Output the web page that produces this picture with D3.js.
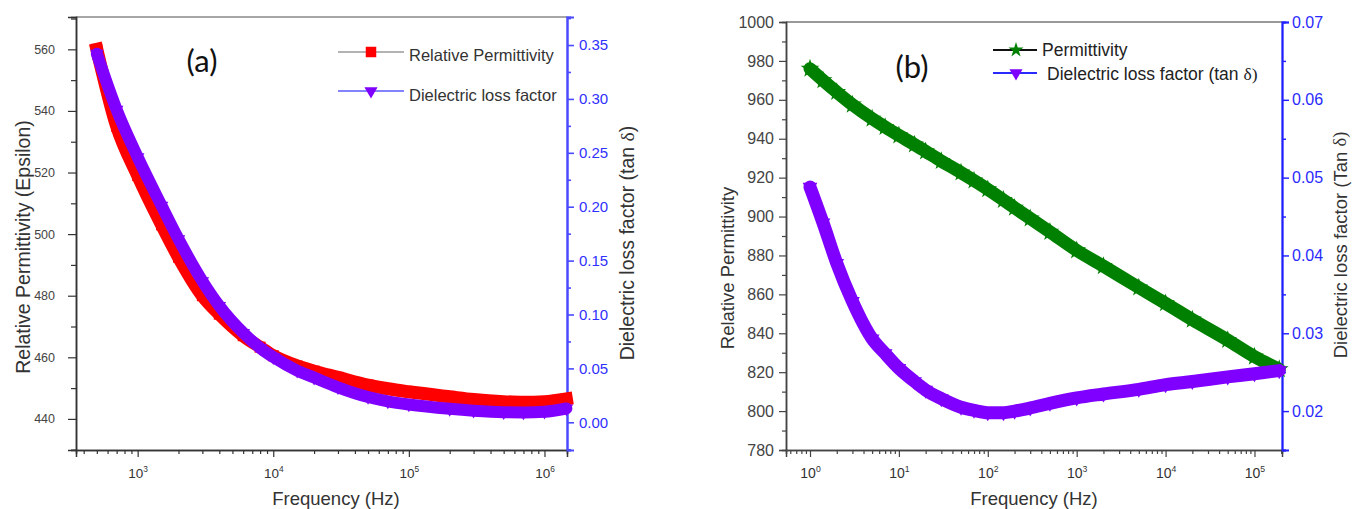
<!DOCTYPE html>
<html><head><meta charset="utf-8">
<script src="https://cdn.jsdelivr.net/npm/d3@7"></script>
<style>
body{margin:0;background:#fff;}
svg{display:block;font-family:"Liberation Sans",Arial,sans-serif;}
</style></head><body>
<svg id="chart" width="1352" height="509"></svg>
<script>
// ---------- Panel (a) data ----------
const freqA = [500, 700, 1000, 1500, 2000, 3000, 4000, 6000, 8000, 10000, 15000, 20000, 30000, 50000, 70000, 100000, 200000, 300000, 500000, 700000, 1000000, 1450000];
const permA = [560, 535, 519, 503, 492.5, 480, 474, 467, 463.3, 460.5, 457.2, 455.5, 453.5, 451, 449.8, 448.8, 447.2, 446.3, 445.6, 445.4, 445.6, 446.5];
const tanA  = [0.342, 0.290, 0.246, 0.201, 0.170, 0.131, 0.108, 0.083, 0.069, 0.0605, 0.048, 0.0415, 0.0325, 0.0235, 0.0195, 0.0165, 0.0125, 0.0108, 0.0094, 0.0092, 0.0098, 0.0128];
const leftTicksA  = [440, 460, 480, 500, 520, 540, 560];
const leftMinorA  = [430, 450, 470, 490, 510, 530, 550, 570];
const rightTicksA = [0, 0.05, 0.10, 0.15, 0.20, 0.25, 0.30, 0.35];
const rightMinorA = [-0.025, 0.025, 0.075, 0.125, 0.175, 0.225, 0.275, 0.325, 0.375];
const xTicksA = [1e3, 1e4, 1e5, 1e6];
const legendA = ["Relative Permittivity", "Dielectric loss factor"];

// ---------- Panel (b) data ----------
const freqB = [1, 1.4, 2, 3, 5, 7, 10, 15, 20, 30, 50, 70, 100, 150, 200, 300, 500, 1000, 2000, 5000, 10000, 20000, 50000, 100000, 190000];
const permB = [976, 970, 964, 957.5, 950.3, 946, 941.7, 937, 933.5, 928.5, 922.6, 918.5, 914, 908.5, 904.5, 899, 892.1, 882.6, 874.5, 863.5, 855.4, 847, 836.5, 828, 821.5];
const tanB  = [0.0488, 0.0442, 0.0390, 0.0341, 0.0293, 0.0274, 0.0255, 0.0238, 0.0227, 0.0216, 0.0205, 0.0201, 0.0198, 0.0198, 0.0200, 0.0204, 0.0210, 0.0217, 0.0222, 0.0228, 0.0234, 0.0238, 0.0244, 0.0248, 0.0252];
const leftTicksB  = [780, 800, 820, 840, 860, 880, 900, 920, 940, 960, 980, 1000];
const leftMinorB  = [790, 810, 830, 850, 870, 890, 910, 930, 950, 970, 990];
const rightTicksB = [0.02, 0.03, 0.04, 0.05, 0.06, 0.07];
const rightMinorB = [0.015, 0.025, 0.035, 0.045, 0.055, 0.065];
const xTicksB = [1, 10, 100, 1000, 10000, 100000];
const legendB = ["Permittivity", "Dielectric loss factor (tan "];

const svg = d3.select("#chart");

function logMinors(domain) {
  const out = [];
  const lo = Math.floor(Math.log10(domain[0])), hi = Math.ceil(Math.log10(domain[1]));
  for (let e = lo; e <= hi; e++) for (let m = 2; m <= 9; m++) {
    const v = m * Math.pow(10, e);
    if (v >= domain[0] && v <= domain[1]) out.push(v);
  }
  return out;
}
function supLabels(sel, fs) {
  sel.selectAll(".tick text").each(function(d) {
    const t = d3.select(this); t.text(null);
    t.append("tspan").text("10");
    t.append("tspan").attr("dy", -fs * 0.45).attr("font-size", fs * 0.62).text(Math.round(Math.log10(d)));
  });
}
function styleAxis(g, color, width, textColor, fs) {
  g.select(".domain").attr("stroke", color).attr("stroke-width", width);
  g.selectAll(".tick line").attr("stroke", color).attr("stroke-width", width * 0.8);
  g.selectAll(".tick text").attr("fill", textColor).attr("font-size", fs);
  g.attr("font-family", null);
}

// ================= PANEL A =================
const xA  = d3.scaleLog().domain([351, 1.466e6]).range([76, 567]);
const yA  = d3.scaleLinear().domain([429.9, 570.5]).range([450, 17]);
const y2A = d3.scaleLinear().domain([-0.0257, 0.376]).range([450, 17]);
const gA = svg.append("g");

gA.append("line").attr("x1", 76).attr("x2", 567).attr("y1", yA(570.5)).attr("y2", yA(570.5)).attr("stroke", "#888").attr("stroke-width", 1.3);

gA.append("g").attr("transform", "translate(0,450)").call(d3.axisBottom(xA).tickValues(logMinors(xA.domain())).tickSize(4).tickFormat(""))
  .call(g => styleAxis(g, "#333", 1.5, "#333", 13.5));
gA.append("g").attr("transform", "translate(76,0)").call(d3.axisLeft(yA).tickValues(leftMinorA).tickSize(5).tickFormat(""))
  .call(g => styleAxis(g, "#333", 1.5, "#333", 12));
gA.append("g").attr("transform", "translate(567,0)").call(d3.axisRight(y2A).tickValues(rightMinorA).tickSize(4).tickFormat(""))
  .call(g => styleAxis(g, "#4a4aff", 2, "#3030ff", 15));
gA.append("g").attr("transform", "translate(0,450)").call(d3.axisBottom(xA).tickValues(xTicksA).tickSize(7).tickPadding(11))
  .call(g => styleAxis(g, "#333", 1.5, "#333", 13.5)).call(g => supLabels(g, 13.5));
gA.append("g").attr("transform", "translate(76,0)").call(d3.axisLeft(yA).tickValues(leftTicksA).tickSize(8).tickPadding(13).tickFormat(d3.format("d")))
  .call(g => styleAxis(g, "#333", 1.5, "#444", 12.5));
gA.append("g").attr("transform", "translate(567,0)").call(d3.axisRight(y2A).tickValues(rightTicksA).tickSize(7).tickPadding(5).tickFormat(d3.format(".2f")))
  .call(g => styleAxis(g, "#4a4aff", 2, "#3030ff", 15));

const dataPermA = freqA.map((f, i) => [f, permA[i]]);
const dataTanA  = freqA.map((f, i) => [f, tanA[i]]);
const lineA1 = d3.line().x(d => xA(d[0])).y(d => yA(d[1])).curve(d3.curveMonotoneX);
const lineA2 = d3.line().x(d => xA(d[0])).y(d => y2A(d[1])).curve(d3.curveMonotoneX);
gA.append("path").datum(dataPermA).attr("d", lineA1).attr("fill", "none").attr("stroke", "#ff0000").attr("stroke-width", 13).attr("stroke-linejoin", "round").attr("stroke-linecap", "square");
gA.selectAll(".sqA").data(dataPermA).join("path").attr("class", "sqA")
  .attr("d", d3.symbol(d3.symbolSquare, 121)).attr("fill", "#ff0000")
  .attr("transform", d => `translate(${xA(d[0])},${yA(d[1])})`);
gA.append("path").datum(dataTanA).attr("d", lineA2).attr("fill", "none").attr("stroke", "#8000ff").attr("stroke-width", 12).attr("stroke-linejoin", "round").attr("stroke-linecap", "round");
gA.selectAll(".trA").data(dataTanA).join("path").attr("class", "trA")
  .attr("d", d3.symbol(d3.symbolTriangle, 80)).attr("fill", "#8000ff")
  .attr("transform", d => `translate(${xA(d[0])},${y2A(d[1])}) rotate(180)`);

const legA = gA.append("g");
legA.append("line").attr("x1", 338).attr("x2", 404).attr("y1", 52).attr("y2", 52).attr("stroke", "#9a9a9a").attr("stroke-width", 1.5);
legA.append("path").attr("d", d3.symbol(d3.symbolSquare, 110)).attr("fill", "#ff0000").attr("transform", "translate(371,52)");
legA.append("line").attr("x1", 338).attr("x2", 404).attr("y1", 91).attr("y2", 91).attr("stroke", "#5a5aff").attr("stroke-width", 1.5);
legA.append("path").attr("d", d3.symbol(d3.symbolTriangle, 75)).attr("fill", "#8000ff").attr("transform", "translate(371,91) rotate(180)");
legA.selectAll("text.leg").data(legendA).join("text").attr("class", "leg").attr("x", 409).attr("y", (d, i) => i ? 95 : 55)
  .attr("dominant-baseline", "central").attr("font-size", 16.5).attr("fill", "#333").text(d => d);

gA.append("text").attr("x", 202).attr("y", 60).attr("text-anchor", "middle").attr("dominant-baseline", "central")
  .attr("font-family", "Lato, 'Open Sans', sans-serif").attr("font-size", 31).attr("fill", "#111").text("(a)");
gA.append("text").attr("x", 336).attr("y", 505).attr("text-anchor", "middle").attr("font-size", 18.5).attr("fill", "#333").text("Frequency (Hz)");
gA.append("text").attr("transform", "translate(23,247) rotate(-90)").attr("text-anchor", "middle").attr("dominant-baseline", "central")
  .attr("font-size", 19.5).attr("fill", "#333").text("Relative Permittivity (Epsilon)");
const tA = gA.append("text").attr("transform", "translate(627,243) rotate(-90)").attr("text-anchor", "middle").attr("dominant-baseline", "central")
  .attr("font-size", 19.5).attr("fill", "#333");
tA.append("tspan").text("Dielectric loss factor (tan ");
tA.append("tspan").attr("font-family", "'Liberation Serif', serif").text("δ");
tA.append("tspan").text(")");

// ================= PANEL B =================
const xB  = d3.scaleLog().domain([0.537, 2.04e5]).range([786, 1282]);
const yB  = d3.scaleLinear().domain([780, 1000]).range([450, 22]);
const y2B = d3.scaleLinear().domain([0.015, 0.07]).range([450, 22]);
const gB = svg.append("g");

gB.append("line").attr("x1", 786).attr("x2", 1282).attr("y1", 22).attr("y2", 22).attr("stroke", "#777").attr("stroke-width", 1.5);

gB.append("g").attr("transform", "translate(0,450)").call(d3.axisBottom(xB).tickValues(logMinors(xB.domain())).tickSize(4).tickFormat(""))
  .call(g => styleAxis(g, "#444", 1.5, "#333", 14));
gB.append("g").attr("transform", "translate(786,0)").call(d3.axisLeft(yB).tickValues(leftMinorB).tickSize(4).tickFormat(""))
  .call(g => styleAxis(g, "#444", 1.5, "#333", 16));
gB.append("g").attr("transform", "translate(1282,0)").call(d3.axisRight(y2B).tickValues(rightMinorB).tickSize(4).tickFormat(""))
  .call(g => styleAxis(g, "#2020ff", 1.8, "#2a2aff", 16));
gB.append("g").attr("transform", "translate(0,450)").call(d3.axisBottom(xB).tickValues(xTicksB).tickSize(7).tickPadding(11))
  .call(g => styleAxis(g, "#444", 1.5, "#333", 14)).call(g => supLabels(g, 14));
gB.append("g").attr("transform", "translate(786,0)").call(d3.axisLeft(yB).tickValues(leftTicksB).tickSize(7).tickPadding(5).tickFormat(d3.format("d")))
  .call(g => styleAxis(g, "#444", 1.5, "#444", 16));
gB.append("g").attr("transform", "translate(1282,0)").call(d3.axisRight(y2B).tickValues(rightTicksB).tickSize(7).tickPadding(3).tickFormat(d3.format(".2f")))
  .call(g => styleAxis(g, "#2020ff", 1.8, "#2a2aff", 16));

const dataPermB = freqB.map((f, i) => [f, permB[i]]);
const dataTanB  = freqB.map((f, i) => [f, tanB[i]]);
const lineB1 = d3.line().x(d => xB(d[0])).y(d => yB(d[1])).curve(d3.curveMonotoneX);
const lineB2 = d3.line().x(d => xB(d[0])).y(d => y2B(d[1])).curve(d3.curveMonotoneX);
gB.append("path").datum(dataPermB).attr("d", lineB1).attr("fill", "none").attr("stroke", "#008000").attr("stroke-width", 13).attr("stroke-linejoin", "round").attr("stroke-linecap", "round");
gB.selectAll(".stB").data(dataPermB).join("path").attr("class", "stB")
  .attr("d", d3.symbol(d3.symbolStar, 110)).attr("fill", "#008000")
  .attr("transform", d => `translate(${xB(d[0])},${yB(d[1])})`);
gB.append("path").datum(dataTanB).attr("d", lineB2).attr("fill", "none").attr("stroke", "#8000ff").attr("stroke-width", 13).attr("stroke-linejoin", "round").attr("stroke-linecap", "round");
gB.selectAll(".trB").data(dataTanB).join("path").attr("class", "trB")
  .attr("d", d3.symbol(d3.symbolTriangle, 95)).attr("fill", "#8000ff")
  .attr("transform", d => `translate(${xB(d[0])},${y2B(d[1])}) rotate(180)`);

const legB = gB.append("g");
legB.append("line").attr("x1", 993).attr("x2", 1037).attr("y1", 50).attr("y2", 50).attr("stroke", "#111").attr("stroke-width", 2.2);
legB.append("path").attr("d", d3.symbol(d3.symbolStar, 70)).attr("fill", "#008000").attr("transform", "translate(1016,50)");
legB.append("line").attr("x1", 993).attr("x2", 1037).attr("y1", 73).attr("y2", 73).attr("stroke", "#2a2aff").attr("stroke-width", 2.2);
legB.append("path").attr("d", d3.symbol(d3.symbolTriangle, 75)).attr("fill", "#8000ff").attr("transform", "translate(1016,73) rotate(180)");
legB.append("text").attr("x", 1042).attr("y", 50).attr("dominant-baseline", "central").attr("font-size", 17.5).attr("fill", "#222").text(legendB[0]);
const lb2 = legB.append("text").attr("x", 1047).attr("y", 74).attr("dominant-baseline", "central").attr("font-size", 17.5).attr("fill", "#222");
lb2.append("tspan").text(legendB[1]);
lb2.append("tspan").attr("font-family", "'Liberation Serif', serif").text("δ)");

gB.append("text").attr("x", 912).attr("y", 66).attr("text-anchor", "middle").attr("dominant-baseline", "central")
  .attr("font-family", "Lato, 'Open Sans', sans-serif").attr("font-size", 31).attr("fill", "#111").text("(b)");
gB.append("text").attr("x", 1034).attr("y", 505).attr("text-anchor", "middle").attr("font-size", 18.5).attr("fill", "#333").text("Frequency (Hz)");
gB.append("text").attr("transform", "translate(727,268) rotate(-90)").attr("text-anchor", "middle").attr("dominant-baseline", "central")
  .attr("font-size", 18.5).attr("fill", "#333").text("Relative Permittivity");
const tB = gB.append("text").attr("transform", "translate(1340,245) rotate(-90)").attr("text-anchor", "middle").attr("dominant-baseline", "central")
  .attr("font-size", 18.5).attr("fill", "#333");
tB.append("tspan").text("Dielectric loss factor (Tan ");
tB.append("tspan").attr("font-family", "'Liberation Serif', serif").text("δ)");
</script>
</body></html>
